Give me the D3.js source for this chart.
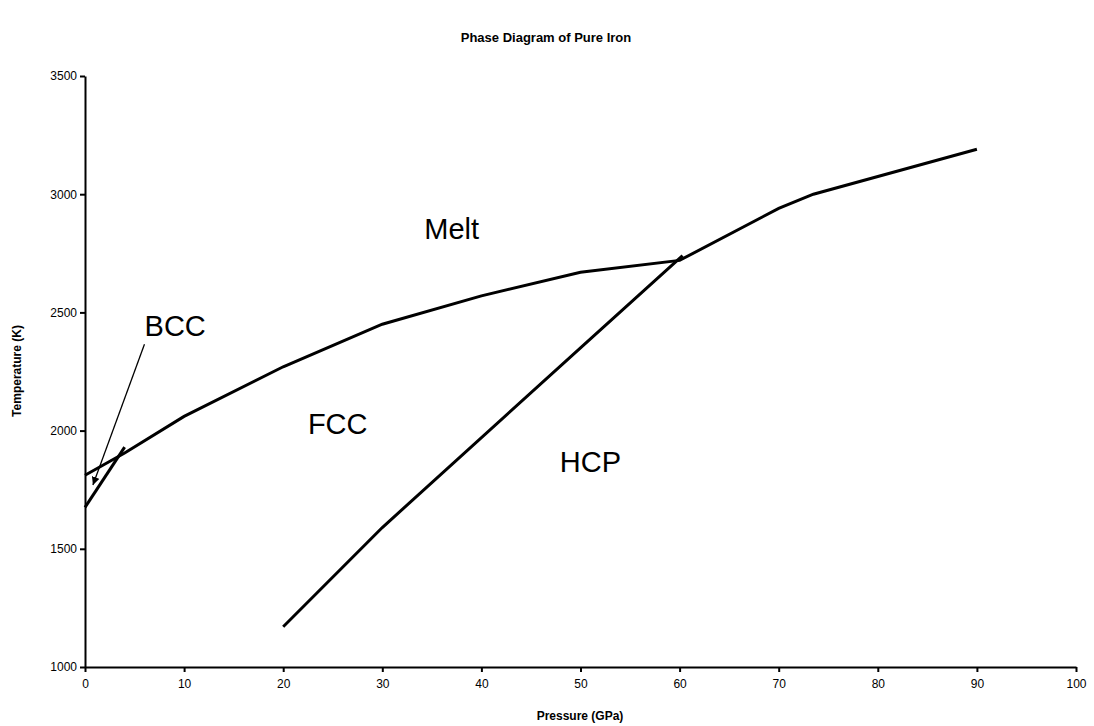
<!DOCTYPE html>
<html><head><meta charset="utf-8">
<script src="https://cdn.jsdelivr.net/npm/d3@7"></script>
<style>body{margin:0;background:#fff}svg{font-family:Arial,"Liberation Sans",sans-serif}</style>
</head><body><svg id="c" width="1094" height="726"></svg>
<script>
// melting curve
const meltP = [0, 4, 10, 20, 30, 40, 50, 60, 70, 73.5, 90];
const meltT = [1811, 1905, 2060, 2270, 2450, 2570, 2670, 2720, 2940, 3000, 3190];
// fcc/hcp boundary
const hcpP = [20, 30, 50, 60.3];
const hcpT = [1170, 1590, 2350, 2740];
// bcc/fcc boundary
const bccP = [0, 4];
const bccT = [1675, 1930];
const xTicks = [0, 10, 20, 30, 40, 50, 60, 70, 80, 90, 100];
const yTicks = [1000, 1500, 2000, 2500, 3000, 3500];
const labels = [["Melt", 37, 2810], ["FCC", 25.5, 1985], ["HCP", 51, 1825], ["BCC", 9.1, 2400]];

const svg = d3.select('#c');
const x = d3.scaleLinear().domain([0, 100]).range([85, 1076]);
const y = d3.scaleLinear().domain([1000, 3500]).range([667, 76]);

svg.append('g').attr('transform', 'translate(0,667)')
    .call(d3.axisBottom(x).tickValues(xTicks).tickSize(5).tickSizeOuter(0))
    .call(g => g.selectAll('text').attr('font-size', 12).attr('dy', '1.1em'));
svg.append('g').attr('transform', 'translate(85,0)')
    .call(d3.axisLeft(y).tickValues(yTicks).tickFormat(d3.format('d')).tickSize(5).tickSizeOuter(0))
    .call(g => g.selectAll('text').attr('font-size', 12));
svg.selectAll('.domain, .tick line').attr('stroke', '#000').attr('stroke-width', 2);

const line = d3.line().x(d => x(d[0])).y(d => y(d[1]));
const curve = (P, T) => svg.append('path').attr('d', line(d3.zip(P, T)))
    .attr('fill', 'none').attr('stroke', '#000').attr('stroke-width', 3);
curve(meltP, meltT);
curve(hcpP, hcpT);
curve(bccP, bccT);

svg.append('defs').append('marker').attr('id', 'ar').attr('viewBox', '0 0 10 10')
    .attr('refX', 10).attr('refY', 5).attr('markerWidth', 8).attr('markerHeight', 8)
    .attr('orient', 'auto').attr('markerUnits', 'userSpaceOnUse')
    .append('path').attr('d', 'M0,0L10,5L0,10z');
svg.append('line').attr('x1', x(6)).attr('y1', y(2365)).attr('x2', x(0.8)).attr('y2', y(1770))
    .attr('stroke', '#000').attr('stroke-width', 1.3).attr('marker-end', 'url(#ar)');

svg.selectAll('.lbl').data(labels).join('text')
    .attr('x', d => x(d[1])).attr('y', d => y(d[2])).attr('text-anchor', 'middle')
    .attr('font-size', 29).text(d => d[0]);

svg.append('text').attr('x', 546).attr('y', 42).attr('text-anchor', 'middle')
    .attr('font-size', 13).attr('font-weight', 'bold').text('Phase Diagram of Pure Iron');
svg.append('text').attr('x', 580).attr('y', 720).attr('text-anchor', 'middle')
    .attr('font-size', 12).attr('font-weight', 'bold').text('Pressure (GPa)');
svg.append('text').attr('transform', 'translate(21,371) rotate(-90)').attr('text-anchor', 'middle')
    .attr('font-size', 12).attr('font-weight', 'bold').text('Temperature (K)');
</script></body></html>
